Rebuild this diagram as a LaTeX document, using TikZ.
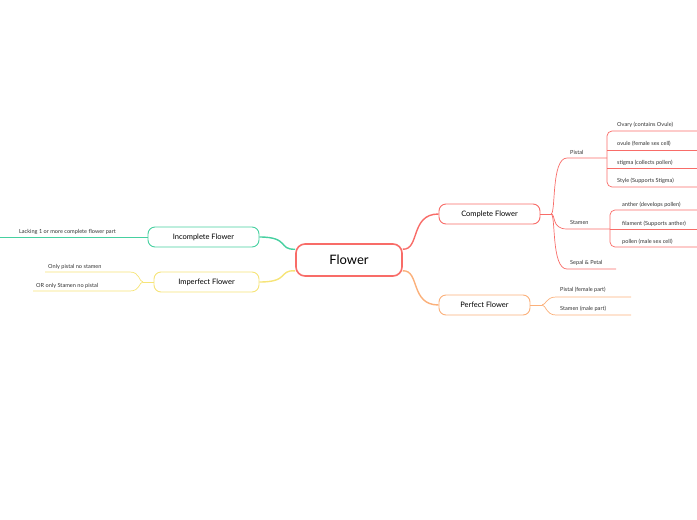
\documentclass[tikz,border=0pt]{standalone}
\usepackage{fontspec}
\setmainfont{Lato}
\begin{document}
\begin{tikzpicture}[x=1pt,y=-1pt,
  every node/.style={inner sep=0pt},
  cred/.style={draw=rd},
  main/.style={draw=rd,line width=1.6pt,rounded corners=9pt,fill=white,minimum width=106pt,minimum height=32pt,font=\fontsize{13}{14}\selectfont},
  topic/.style={line width=0.9pt,rounded corners=7pt,fill=white,minimum height=20pt,font=\fontsize{7.5}{8}\selectfont},
  leaf/.style={font=\fontsize{5.6}{6}\selectfont,anchor=base west},
  ln/.style={line width=0.7pt},
  br/.style={line width=0.7pt,rounded corners=5pt}]
\definecolor{rd}{RGB}{248,108,104}
\definecolor{og}{RGB}{251,176,122}
\definecolor{gr}{RGB}{70,208,160}
\definecolor{yl}{RGB}{246,228,120}
\definecolor{tx}{RGB}{50,50,50}
\useasboundingbox (0,0) rectangle (697,520);
\clip (0,0) rectangle (697,520);
% connectors from central
\node[main] (fl) at (349,260) {Flower};
\node[topic,draw=rd,minimum width=101pt] (cf) at (489.5,214) {Complete Flower};
\node[topic,draw=og,minimum width=91pt] (pf) at (484.5,305) {Perfect Flower};
\node[topic,draw=gr,minimum width=111pt] (if) at (203.5,237) {Incomplete Flower};
\node[topic,draw=yl,minimum width=105pt] (mf) at (206.5,282) {Imperfect Flower};
\begin{scope}[on background layer/.style={}]
\end{scope}
\draw[rd,line width=1.4pt] (fl.north east)++(0,6) .. controls (420,250) and (410,214) .. (cf.west);
\draw[og,line width=1.4pt] (fl.south east)++(0,-6) .. controls (420,270) and (410,305) .. (pf.west);
\draw[gr,line width=1.4pt] (fl.north west)++(0,6) .. controls (278,250) and (290,237) .. (if.east);
\draw[yl,line width=1.4pt] (fl.south west)++(0,-6) .. controls (278,270) and (290,282) .. (mf.east);
% Complete flower subtree
\coordinate (c0) at (551,214);
\draw[rd,ln] (cf.east) -- (c0);
\node[leaf,text=tx] (pi) at (570,154) {Pistal};
\node[leaf,text=tx] (st) at (570,224) {Stamen};
\node[leaf,text=tx] (sp) at (570,264) {Sepal \& Petal};
\coordinate (pie) at (607,158);
\coordinate (ste) at (610,229);
\draw[rd,ln] (c0) .. controls (556,214) and (551,158) .. (567,158) -- (pie);
\draw[rd,ln] (c0) .. controls (556,214) and (551,229) .. (567,229) -- (ste);
\draw[rd,ln] (c0) .. controls (556,214) and (551,269) .. (567,269) -- (616,269);
% pistal children
\draw[rd,br] (697,131) -- (607,131) -- (607,187) -- (697,187);
\draw[rd,ln] (607,150) -- (697,150);
\draw[rd,ln] (607,168) -- (697,168);
\node[leaf,text=tx] (p1) at (617,126) {Ovary (contains Ovule)};
\node[leaf,text=tx] (p2) at (617,145) {ovule (female sex cell)};
\node[leaf,text=tx] (p3) at (617,164) {stigma (collects pollen)};
\node[leaf,text=tx] (p4) at (617,182) {Style (Supports Stigma)};
% stamen children
\draw[rd,br] (697,210) -- (610,210) -- (610,247) -- (697,247);
\draw[rd,ln] (610,229) -- (697,229);
\node[leaf,text=tx] (s1) at (622,206) {anther (develops pollen)};
\node[leaf,text=tx] (s2) at (622,225) {filament (Supports anther)};
\node[leaf,text=tx] (s3) at (622,243) {pollen (male sex cell)};
% perfect flower
\coordinate (p0) at (542,305);
\draw[og,ln] (pf.east) -- (p0);
\draw[og,ln] (p0) .. controls (546,305) and (546,297) .. (556,297) -- (631,297);
\draw[og,ln] (p0) .. controls (546,305) and (546,315) .. (556,315) -- (631,315);
\node[leaf,text=tx] (q1) at (560,291) {Pistal (female part)};
\node[leaf,text=tx] (q2) at (560,310) {Stamen (male part)};
% incomplete
\draw[gr,ln] (if.west) -- (0,237);
\node[leaf,text=tx,anchor=base east] (i1) at (116,233) {Lacking 1 or more complete flower part};
% imperfect
\coordinate (m0) at (143,282);
\draw[yl,ln] (mf.west) -- (m0);
\draw[yl,ln] (m0) .. controls (139,282) and (140,272) .. (130,272) -- (45,272);
\draw[yl,ln] (m0) .. controls (139,282) and (140,291) .. (130,291) -- (33,291);
\node[leaf,text=tx] (m1) at (48,268) {Only pistal no stamen};
\node[leaf,text=tx] (m2) at (36,287) {OR only Stamen no pistal};
\end{tikzpicture}
\end{document}
